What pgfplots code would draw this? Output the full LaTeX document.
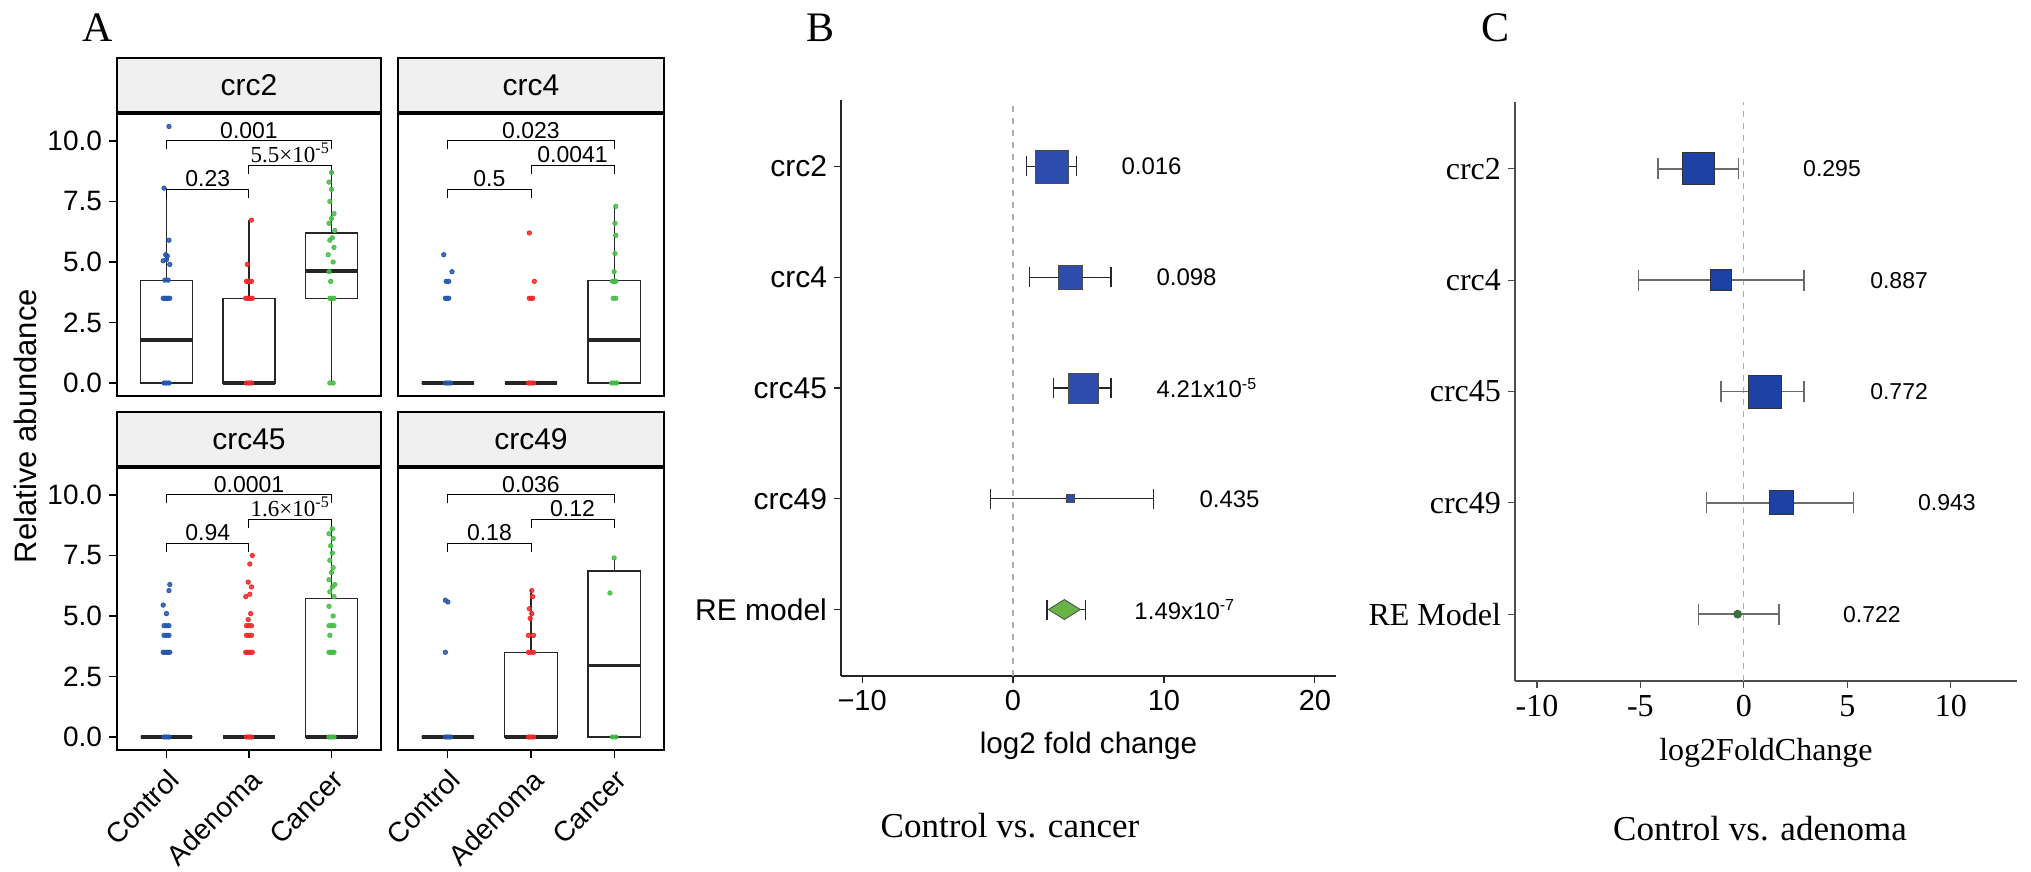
\documentclass[border=0pt]{standalone}
\usepackage{fontspec}
\setmainfont{Liberation Sans}
\newfontfamily\tms{Liberation Serif}
\usepackage{pgfplots}
\pgfplotsset{compat=1.18}
\usepgfplotslibrary{statistics}

\definecolor{ctrl}{RGB}{36,86,176}
\definecolor{aden}{RGB}{246,40,42}
\definecolor{canc}{RGB}{69,190,69}
\definecolor{fblue}{RGB}{46,76,174}
\definecolor{cblue}{RGB}{30,65,166}
\definecolor{dgreen}{RGB}{46,125,50}
\definecolor{lgreen}{RGB}{103,179,70}
\definecolor{stripgray}{RGB}{240,240,240}

\newcommand{\fs}[1]{\fontsize{#1}{#1}\selectfont}

\tikzset{
  plab/.style={anchor=south, inner sep=1pt, font=\fs{11.5}},
  pv/.style={anchor=west, inner sep=0pt, font=\fs{#1}},
}

\pgfplotsset{
  facet/.style={
    scale only axis, width=132pt, height=141.5pt,
    xmin=0.4, xmax=3.6, ymin=-0.537, ymax=11.157,
    clip=false,
    axis line style={line width=0.8pt},
    tick style={line width=0.6pt, black},
    tick align=outside, major tick length=4pt,
    xtick=\empty, ytick=\empty,
    boxplot/draw direction=y,
    boxplot/box extend=0.63, boxplot/whisker extend=0,
    boxplot/every median/.style={line width=1.6pt},
  },
  leftfacet/.style={ytick={0,2.5,5,7.5,10}, yticklabels={0.0,2.5,5.0,7.5,10.0},
    yticklabel style={font=\fs{14}}, ytick pos=left},
  bottomfacet/.style={xtick={1,2,3}, xticklabels={Control,Adenoma,Cancer}, xtick pos=bottom,
    xticklabel style={rotate=45, anchor=north east, font=\fs{14}}},
  strip/.style={after end axis/.append code={
    \draw[fill=stripgray, line width=0.6pt] (rel axis cs:0,1) rectangle ([yshift=27.5pt]rel axis cs:1,1);
    \node[font=\fs{15}] at ([yshift=13.75pt]rel axis cs:0.5,1) {#1};
    \draw[line width=1.6pt] (rel axis cs:0,1) -- (rel axis cs:1,1);
  }},
  box/.style={black!85, line width=0.6pt, solid},
  pts/.style={only marks, color=#1, mark=*, mark size=1.1pt, mark options={draw=none, fill=#1, fill opacity=0.85}},
  brk/.style={black, line width=0.5pt},
  forest/.style={
    scale only axis, ymin=0.4, ymax=5.6, clip=false,
    axis lines=left, tick align=outside, major tick length=3.5pt,
    ytick={1,2,3,4,5},
  },
}

\begin{document}
\begin{tikzpicture}
\useasboundingbox (0,0) rectangle (1015.5pt,436pt);

% ---------------- panel A ----------------
\begin{axis}[facet, leftfacet, strip=crc2, at={(58.5pt,238pt)}, anchor=south west]
\addplot[box, boxplot prepared={draw position=1, lower whisker=0, lower quartile=0, median=1.78, upper quartile=4.25, upper whisker=8.05}] coordinates {};
\addplot[box, boxplot prepared={draw position=2, lower whisker=0, lower quartile=0, median=0, upper quartile=3.5, upper whisker=6.73}] coordinates {};
\addplot[box, boxplot prepared={draw position=3, lower whisker=0, lower quartile=3.5, median=4.63, upper quartile=6.2, upper whisker=8.7}] coordinates {};
\addplot[pts=ctrl] coordinates {(0.97,0) (1.0,0) (1.03,0) (0.96,3.5) (0.98,3.5) (1.0,3.5) (1.02,3.5) (1.04,3.5) (0.98,4.25) (1.02,4.25) (1.04,4.9) (0.96,5.05) (1.0,5.1) (1.01,5.25) (0.99,5.3) (1.03,5.9) (0.97,8.05) (1.03,10.6)};
\addplot[pts=aden] coordinates {(1.97,0) (2.0,0) (2.03,0) (1.96,3.5) (1.98,3.5) (2.0,3.5) (2.02,3.5) (2.04,3.5) (1.97,4.2) (1.99,4.2) (2.01,4.2) (2.03,4.2) (1.98,4.9) (2.03,6.73)};
\addplot[pts=canc] coordinates {(2.98,0) (3.02,0) (2.98,3.5) (3.01,3.5) (3.03,3.5) (2.99,4.2) (2.97,4.6) (3.02,5.0) (2.96,5.3) (3.03,5.6) (2.98,5.9) (3.01,6.0) (3.04,6.3) (2.97,6.6) (3.0,6.8) (3.03,7.0) (2.98,7.5) (3.0,8.0) (2.97,8.3) (3.0,8.7)};
\addplot[brk] coordinates {(1,9.65) (1,10) (3,10) (3,9.65)};
\addplot[brk] coordinates {(2,8.65) (2,9) (3,9) (3,8.65)};
\addplot[brk] coordinates {(1,7.65) (1,8) (2,8) (2,7.65)};
\node[plab] at (axis cs:2,10) {0.001};
\node[plab] at (axis cs:2.5,9) {\tms 5.5×10\textsuperscript{-5}};
\node[plab] at (axis cs:1.5,8) {0.23};
\end{axis}

\begin{axis}[facet, strip=crc4, width=133pt, at={(199pt,238pt)}, anchor=south west]
\addplot[box, boxplot prepared={draw position=1, lower whisker=0, lower quartile=0, median=0, upper quartile=0, upper whisker=0}] coordinates {};
\addplot[box, boxplot prepared={draw position=2, lower whisker=0, lower quartile=0, median=0, upper quartile=0, upper whisker=0}] coordinates {};
\addplot[box, boxplot prepared={draw position=3, lower whisker=0, lower quartile=0, median=1.78, upper quartile=4.25, upper whisker=7.3}] coordinates {};
\addplot[pts=ctrl] coordinates {(0.97,0) (1.0,0) (1.03,0) (0.97,3.5) (0.99,3.5) (1.01,3.5) (0.98,4.2) (1.01,4.2) (1.05,4.6) (0.95,5.3)};
\addplot[pts=aden] coordinates {(1.97,0) (2.0,0) (2.03,0) (1.98,3.5) (2.0,3.5) (2.02,3.5) (2.04,4.2) (1.98,6.2)};
\addplot[pts=canc] coordinates {(2.97,0) (3.0,0) (3.03,0) (2.99,3.5) (3.02,3.5) (2.98,4.2) (3.0,4.2) (3.02,4.2) (3.0,4.6) (3.01,5.35) (3.02,6.1) (3.01,6.6) (3.02,7.3)};
\addplot[brk] coordinates {(1,9.65) (1,10) (3,10) (3,9.65)};
\addplot[brk] coordinates {(2,8.65) (2,9) (3,9) (3,8.65)};
\addplot[brk] coordinates {(1,7.65) (1,8) (2,8) (2,7.65)};
\node[plab] at (axis cs:2,10) {0.023};
\node[plab] at (axis cs:2.5,9) {0.0041};
\node[plab] at (axis cs:1.5,8) {0.5};
\end{axis}

\begin{axis}[facet, leftfacet, bottomfacet, strip=crc45, at={(58.5pt,61pt)}, anchor=south west]
\addplot[box, boxplot prepared={draw position=1, lower whisker=0, lower quartile=0, median=0, upper quartile=0, upper whisker=0}] coordinates {};
\addplot[box, boxplot prepared={draw position=2, lower whisker=0, lower quartile=0, median=0, upper quartile=0, upper whisker=0}] coordinates {};
\addplot[box, boxplot prepared={draw position=3, lower whisker=0, lower quartile=0, median=0, upper quartile=5.72, upper whisker=8.62}] coordinates {};
\addplot[pts=ctrl] coordinates {(0.97,0) (1.0,0) (1.03,0) (0.96,3.5) (0.98,3.5) (1.0,3.5) (1.02,3.5) (1.04,3.5) (0.97,4.2) (1.0,4.2) (1.03,4.2) (0.97,4.6) (1.0,4.6) (1.03,4.6) (1.0,5.1) (0.96,5.45) (1.03,6.05) (1.04,6.3)};
\addplot[pts=aden] coordinates {(1.97,0) (2.0,0) (2.03,0) (1.96,3.5) (1.98,3.5) (2.0,3.5) (2.02,3.5) (2.04,3.5) (1.97,4.2) (2.0,4.2) (2.03,4.2) (1.97,4.6) (2.0,4.6) (2.03,4.6) (1.99,4.85) (2.02,5.1) (1.96,5.8) (2.01,5.9) (2.03,6.2) (1.99,6.4) (2.01,7.15) (2.04,7.5)};
\addplot[pts=canc] coordinates {(2.97,0) (3.0,0) (3.03,0) (2.97,3.5) (2.99,3.5) (3.01,3.5) (3.03,3.5) (2.98,4.2) (2.97,4.6) (3.0,4.6) (3.03,4.6) (3.02,5.0) (2.97,5.4) (3.03,5.8) (2.98,6.0) (3.01,6.2) (3.04,6.3) (2.97,6.5) (3.0,6.8) (3.02,7.0) (2.98,7.3) (3.01,7.6) (2.99,7.9) (3.02,8.2) (2.97,8.4) (3.01,8.6)};
\addplot[brk] coordinates {(1,9.65) (1,10) (3,10) (3,9.65)};
\addplot[brk] coordinates {(2,8.65) (2,9) (3,9) (3,8.65)};
\addplot[brk] coordinates {(1,7.65) (1,8) (2,8) (2,7.65)};
\node[plab] at (axis cs:2,10) {0.0001};
\node[plab] at (axis cs:2.5,9) {\tms 1.6×10\textsuperscript{-5}};
\node[plab] at (axis cs:1.5,8) {0.94};
\end{axis}

\begin{axis}[facet, bottomfacet, strip=crc49, width=133pt, at={(199pt,61pt)}, anchor=south west]
\addplot[box, boxplot prepared={draw position=1, lower whisker=0, lower quartile=0, median=0, upper quartile=0, upper whisker=0}] coordinates {};
\addplot[box, boxplot prepared={draw position=2, lower whisker=0, lower quartile=0, median=0, upper quartile=3.5, upper whisker=6.09}] coordinates {};
\addplot[box, boxplot prepared={draw position=3, lower whisker=0, lower quartile=0, median=2.96, upper quartile=6.86, upper whisker=7.41}] coordinates {};
\addplot[pts=ctrl] coordinates {(0.97,0) (1.0,0) (1.03,0) (0.97,3.5) (0.97,5.65) (1.0,5.58)};
\addplot[pts=aden] coordinates {(1.97,0) (2.0,0) (2.03,0) (1.97,3.5) (2.0,3.5) (2.03,3.5) (1.97,4.2) (2.03,4.2) (1.99,4.9) (2.01,5.1) (1.98,5.3) (2.02,5.8) (2.01,6.05)};
\addplot[pts=canc] coordinates {(2.98,0) (3.02,0) (2.95,5.95) (3.0,7.4)};
\addplot[brk] coordinates {(1,9.65) (1,10) (3,10) (3,9.65)};
\addplot[brk] coordinates {(2,8.65) (2,9) (3,9) (3,8.65)};
\addplot[brk] coordinates {(1,7.65) (1,8) (2,8) (2,7.65)};
\node[plab] at (axis cs:2,10) {0.036};
\node[plab] at (axis cs:2.5,9) {0.12};
\node[plab] at (axis cs:1.5,8) {0.18};
\end{axis}

\node[rotate=90, font=\fs{15.5}] at (12.5pt,223pt) {Relative abundance};
\node[font=\tms\fs{21}] at (49pt,422pt) {A};

% ---------------- panel B ----------------
\begin{axis}[forest, at={(420.5pt,98pt)}, anchor=south west, width=247.5pt, height=288pt,
  xmin=-11.4, xmax=21.4,
  axis line style={-, line width=0.6pt, black!85},
  tick style={line width=0.6pt, black!85},
  xtick={-10,0,10,20}, xticklabels={−10,0,10,20},
  yticklabels={RE model,crc49,crc45,crc4,crc2},
  xticklabel style={font=\fs{14.5}}, yticklabel style={font=\fs{15}},
  xlabel={log2 fold change}, xlabel style={font=\fs{14.8}, yshift=-4pt}]
\addplot[gray!65, dashed, line width=0.6pt] coordinates {(0,0.4) (0,5.6)};
\addplot[only marks, mark=square*, mark size=8.25pt, mark options={fill=fblue, draw=black!70, line width=0.4pt}] coordinates {(2.6,5)};
\addplot[only marks, mark=square*, mark size=6pt, mark options={fill=fblue, draw=black!70, line width=0.4pt}] coordinates {(3.8,4)};
\addplot[only marks, mark=square*, mark size=7.5pt, mark options={fill=fblue, draw=black!70, line width=0.4pt}] coordinates {(4.65,3)};
\addplot[only marks, mark=square*, mark size=2pt, mark options={fill=fblue, draw=black!70, line width=0.4pt}] coordinates {(3.8,2)};
\addplot[only marks, mark=diamond*, mark size=5pt, mark options={xscale=2.13, fill=lgreen, draw=black!70, line width=0.4pt}] coordinates {(3.4,1)};
\addplot[black!85, line width=0.7pt, mark=|, mark size=5pt, mark options={solid, line width=0.7pt}] coordinates {(0.9,5) (4.2,5)};
\addplot[black!85, line width=0.7pt, mark=|, mark size=5pt, mark options={solid, line width=0.7pt}] coordinates {(1.1,4) (6.5,4)};
\addplot[black!85, line width=0.7pt, mark=|, mark size=5pt, mark options={solid, line width=0.7pt}] coordinates {(2.7,3) (6.5,3)};
\addplot[black!85, line width=0.7pt, mark=|, mark size=5pt, mark options={solid, line width=0.7pt}] coordinates {(-1.5,2) (9.3,2)};
\addplot[black!85, line width=0.7pt, mark=|, mark size=5pt, mark options={solid, line width=0.7pt}] coordinates {(2.25,1) (4.8,1)};
\node[pv=12] at (axis cs:7.16,5) {0.016};
\node[pv=12] at (axis cs:9.48,4) {0.098};
\node[pv=12] at (axis cs:9.48,3) {4.21x10\textsuperscript{-5}};
\node[pv=12] at (axis cs:12.33,2) {0.435};
\node[pv=12] at (axis cs:8.02,1) {1.49x10\textsuperscript{-7}};
\end{axis}
\node[font=\tms\fs{21}] at (410pt,422pt) {B};
\node[font=\tms\fs{17.5}] at (505pt,23pt) {Control vs. cancer};

% ---------------- panel C ----------------
\begin{axis}[forest, at={(757.5pt,95.5pt)}, anchor=south west, width=251pt, height=289.5pt,
  xmin=-11.06, xmax=13.2,
  axis line style={-, line width=0.6pt, black!70},
  tick style={line width=0.6pt, black!70},
  xtick={-10,-5,0,5,10}, xticklabels={-10,-5,0,5,10},
  yticklabels={RE Model,crc49,crc45,crc4,crc2},
  xticklabel style={font=\tms\fs{16}}, yticklabel style={font=\tms\fs{16}},
  xlabel={log2FoldChange}, xlabel style={font=\tms\fs{16}, yshift=-4pt}]
\addplot[gray!65, dashed, line width=0.6pt] coordinates {(0,0.4) (0,5.6)};
\addplot[only marks, mark=square*, mark size=8pt, mark options={fill=cblue, draw=black!80, line width=0.4pt}] coordinates {(-2.2,5)};
\addplot[only marks, mark=square*, mark size=5.25pt, mark options={fill=cblue, draw=black!80, line width=0.4pt}] coordinates {(-1.1,4)};
\addplot[only marks, mark=square*, mark size=8.25pt, mark options={fill=cblue, draw=black!80, line width=0.4pt}] coordinates {(1.0,3)};
\addplot[only marks, mark=square*, mark size=6pt, mark options={fill=cblue, draw=black!80, line width=0.4pt}] coordinates {(1.8,2)};
\addplot[only marks, mark=*, mark size=2pt, mark options={fill=dgreen, draw=black!70, line width=0.3pt}] coordinates {(-0.3,1)};
\addplot[gray!85!black, line width=0.75pt, mark=|, mark size=5.25pt, mark options={solid, line width=0.75pt}] coordinates {(-4.15,5) (-0.25,5)};
\addplot[gray!85!black, line width=0.75pt, mark=|, mark size=5.25pt, mark options={solid, line width=0.75pt}] coordinates {(-5.1,4) (2.9,4)};
\addplot[gray!85!black, line width=0.75pt, mark=|, mark size=5.25pt, mark options={solid, line width=0.75pt}] coordinates {(-1.1,3) (2.9,3)};
\addplot[gray!85!black, line width=0.75pt, mark=|, mark size=5.25pt, mark options={solid, line width=0.75pt}] coordinates {(-1.8,2) (5.3,2)};
\addplot[gray!85!black, line width=0.75pt, mark=|, mark size=5.25pt, mark options={solid, line width=0.75pt}] coordinates {(-2.2,1) (1.7,1)};
\node[pv=11.5] at (axis cs:2.85,5) {0.295};
\node[pv=11.5] at (axis cs:6.09,4) {0.887};
\node[pv=11.5] at (axis cs:6.09,3) {0.772};
\node[pv=11.5] at (axis cs:8.4,2) {0.943};
\node[pv=11.5] at (axis cs:4.78,1) {0.722};
\end{axis}
\node[font=\tms\fs{21}] at (747.5pt,422pt) {C};
\node[font=\tms\fs{17.5}] at (880pt,21.5pt) {Control vs. adenoma};
\end{tikzpicture}
\end{document}
